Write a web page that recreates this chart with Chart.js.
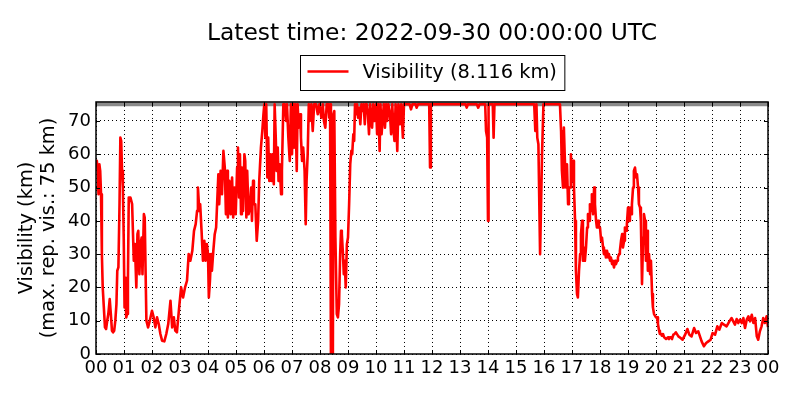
<!DOCTYPE html>
<html>
<head>
<meta charset="utf-8">
<script src="https://cdn.jsdelivr.net/npm/chart.js@4/dist/chart.umd.min.js"></script>
<style>
  body { margin: 0; background: #fff; }
  #wrap { width: 800px; height: 400px; }
</style>
</head>
<body>
<div id="wrap"><canvas id="chart" width="800" height="400"></canvas></div>
<script>
const title = 'Latest time: 2022-09-30 00:00:00 UTC'
const latestValue = 8.116
const maxRepVis = 75
const hourLabels = ['00','01','02','03','04','05','06','07','08','09','10','11','12','13','14','15','16','17','18','19','20','21','22','23','00']

// time of observation (hours since 00 UTC) and visibility (km)
const hours = [
  0.00,0.03,0.06,0.09,0.12,0.15,0.18,0.21,0.24,0.28,0.32,0.36,0.40,0.44,0.49,0.53,0.57,0.61,0.65,0.69,
  0.73,0.76,0.80,0.84,0.87,0.90,0.93,0.96,0.99,1.02,1.05,1.08,1.11,1.14,1.17,1.23,1.29,1.35,1.39,1.44,
  1.48,1.51,1.55,1.59,1.63,1.66,1.71,1.74,1.80,1.86,1.92,2.00,2.06,2.12,2.18,2.24,2.30,2.36,2.44,2.51,
  2.58,2.66,2.72,2.78,2.83,2.89,2.97,3.04,3.11,3.18,3.25,3.31,3.37,3.44,3.50,3.56,3.61,3.64,3.69,3.72,
  3.77,3.82,3.87,3.91,3.96,4.00,4.03,4.07,4.11,4.14,4.19,4.24,4.29,4.33,4.37,4.40,4.45,4.50,4.55,4.60,
  4.64,4.68,4.71,4.76,4.81,4.86,4.90,4.95,4.99,5.04,5.07,5.11,5.14,5.18,5.21,5.25,5.30,5.33,5.37,5.40,
  5.45,5.50,5.54,5.57,5.61,5.64,5.69,5.74,5.79,5.83,5.89,5.94,5.98,6.01,6.05,6.08,6.12,6.15,6.19,6.23,
  6.27,6.31,6.35,6.38,6.42,6.45,6.49,6.52,6.56,6.61,6.64,6.69,6.74,6.79,6.82,6.87,6.92,6.96,7.00,7.04,
  7.07,7.12,7.17,7.20,7.24,7.29,7.32,7.36,7.40,7.45,7.49,7.52,7.56,7.60,7.64,7.69,7.74,7.79,7.86,7.92,
  7.98,8.05,8.10,8.14,8.19,8.24,8.30,8.33,8.36,8.39,8.43,8.46,8.48,8.51,8.55,8.60,8.64,8.68,8.72,8.75,
  8.78,8.82,8.85,8.88,8.92,8.96,9.00,9.04,9.08,9.12,9.15,9.19,9.22,9.25,9.29,9.32,9.36,9.40,9.44,9.48,
  9.52,9.56,9.60,9.63,9.67,9.71,9.75,9.79,9.83,9.86,9.90,9.95,10.00,10.04,10.08,10.13,10.16,10.20,10.24,10.28,
  10.32,10.36,10.40,10.44,10.50,10.54,10.58,10.62,10.66,10.70,10.76,10.80,10.86,10.90,10.96,11.00,11.20,11.25,11.30,11.42,
  11.45,11.50,11.90,11.93,11.96,13.20,13.24,13.28,13.60,13.65,13.70,13.90,13.93,13.97,14.00,14.02,14.17,14.20,14.23,15.65,
  15.69,15.73,15.76,15.80,15.86,15.93,15.98,16.57,16.61,16.64,16.68,16.71,16.75,16.79,16.82,16.86,16.89,16.93,16.96,17.00,
  17.04,17.07,17.11,17.14,17.18,17.21,17.25,17.29,17.32,17.36,17.39,17.43,17.46,17.50,17.54,17.57,17.61,17.64,17.68,17.71,
  17.75,17.79,17.82,17.86,17.89,17.93,17.96,18.00,18.04,18.07,18.11,18.14,18.18,18.21,18.25,18.29,18.32,18.36,18.39,18.43,
  18.46,18.50,18.54,18.57,18.61,18.64,18.68,18.71,18.75,18.79,18.82,18.86,18.89,18.93,18.96,19.00,19.04,19.07,19.11,19.14,
  19.18,19.21,19.25,19.29,19.32,19.36,19.39,19.43,19.46,19.50,19.54,19.57,19.61,19.64,19.68,19.71,19.75,19.79,19.82,19.86,
  19.89,19.93,19.96,20.00,20.04,20.07,20.11,20.14,20.18,20.21,20.25,20.29,20.32,20.36,20.39,20.43,20.46,20.50,20.54,20.57,
  20.62,20.66,20.71,20.80,20.88,20.95,21.04,21.12,21.19,21.27,21.36,21.43,21.51,21.57,21.63,21.71,21.79,21.87,21.95,22.02,
  22.11,22.19,22.26,22.35,22.43,22.52,22.62,22.70,22.76,22.82,22.88,22.94,23.00,23.06,23.12,23.18,23.24,23.30,23.36,23.42,
  23.48,23.54,23.60,23.65,23.71,23.77,23.83,23.89,23.95,24.00
]
const visibility = [
  57,58,55,48,57,55,48,30,20,14,8,7.5,10,12,16.5,12,7,6.5,7,10,
  15,25,26,45,65,64,55,50,35,14,23,11,12,22,47,47,45,28,33,20,
  36,37,24,33,35,24,42,41,10,8,10,13,11,8,11,9,6,4,3.8,6,
  9,16,8,11,7,6.5,14,20,17,20,22,30,28,31,37,39,43,50,43,45,
  37,28,34,28,33,30,17,22,30,25,31,36,38,46,54,45,55,48,61,56,
  42,55,41,52,42,53,41,50,42,56,62,47,60,42,56,43,60,58,41,55,
  42,44,50,40,52,45,45,34,40,52,62,67,72,75,65,75,53,65,52,60,
  52,60,51,75,65,55,62,52,57,48,55,75,75,70,75,65,58,75,60,75,
  62,75,55,75,68,72,65,58,62,55,39,52,60,75,70,75,67,75,75,72,
  75,71,75,70,68,75,75,71,75,0,0.5,0,72,73,35,12,11,15,30,37,
  36,30,24,28,20,33,35,45,57,61,60,66,64,75,72,75,71,74,69,75,
  73,75,69,75,75,72,66,75,70,68,75,70,75,66,75,61,75,66,71,75,
  68,75,70,75,72,66,75,68,64,75,61,75,69,75,65,75,75,73.5,75,75,
  74,75,75,56,75,75,74,75,75,74,75,75,67,65,40,75,75,65,75,75,
  67,75,65,63,30,60,75,75,67,55,50,68,57,50,57,45,50,50,60,52,
  58,50,40,25,18,17,25,30,36,40,28,32,28,32,38,42,40,45,43,48,
  42,50,45,40,38,40,38,38,34,35,32,30,31,29,31,29,30,28,29,27,
  28,26,28,27,28,29,30,31,34,36,32,34,38,37,39,44,40,44,42,45,
  50,55,56,53,54,50,45,44,40,21,35,42,40,28,37,25,30,24,28,18,
  14,12,12,11,11,9,7,6,6,5.5,6,5,5,4.5,4.5,5,4.5,5,5,4.5,
  5.8,6,6.5,5.3,4.8,4.3,5.8,7.5,5.8,5.3,7.8,6.3,6.8,5.3,3.8,2.3,3.3,3.8,4.3,6.3,
  5.8,8.3,7.3,9.3,8.8,8.3,9.8,10.8,9.8,8.8,10.5,9.3,10.3,9.3,10.8,7.8,10.3,11.3,9.8,11.8,
  9.3,10.8,5.3,4.3,6.8,8.3,10.8,9.3,11.3,latestValue
]

const font = '"DejaVu Sans", sans-serif'

// legend with a frame + axes box and inward tick marks, matplotlib style
const frame = {
  id: 'frame',
  afterDraw(chart) {
    const {ctx, chartArea: a, scales} = chart
    ctx.save()
    ctx.strokeStyle = '#000'
    ctx.lineWidth = 1
    ctx.beginPath()
    scales.x.ticks.forEach(t => {
      const px = Math.round(scales.x.getPixelForValue(t.value)) + 0.5
      ctx.moveTo(px, a.bottom); ctx.lineTo(px, a.bottom - 4)
      ctx.moveTo(px, a.top); ctx.lineTo(px, a.top + 4)
    })
    scales.y.ticks.forEach(t => {
      const py = Math.round(scales.y.getPixelForValue(t.value)) + 0.5
      ctx.moveTo(a.left, py); ctx.lineTo(a.left + 4, py)
      ctx.moveTo(a.right, py); ctx.lineTo(a.right - 4, py)
    })
    ctx.stroke()
    ctx.lineWidth = 1.5
    ctx.strokeRect(a.left, a.top, a.right - a.left, a.bottom - a.top)

    const label = `Visibility (${latestValue} km)`
    ctx.font = '19.4px ' + font
    const tw = ctx.measureText(label).width
    const w = 7 + 41 + 14 + tw + 8
    const h = 35
    const x0 = Math.round((a.left + a.right) / 2 - w / 2) + 0.5
    const y0 = 55.5
    ctx.lineWidth = 1
    ctx.strokeRect(x0, y0, w, h)
    ctx.strokeStyle = '#ff0000'
    ctx.lineWidth = 2.6
    ctx.beginPath()
    ctx.moveTo(x0 + 7, y0 + 16)
    ctx.lineTo(x0 + 48, y0 + 16)
    ctx.stroke()
    ctx.fillStyle = '#000'
    ctx.textBaseline = 'middle'
    ctx.fillText(label, x0 + 62, y0 + h / 2)
    ctx.restore()
  }
}

const grid = {color: '#000', lineWidth: 1, drawTicks: false}
const border = {display: false, dash: [1, 3]}

new Chart(document.getElementById('chart'), {
  type: 'line',
  data: {
    datasets: [
      {
        label: 'visibility',
        data: hours.map((h, i) => ({x: h, y: visibility[i]})),
        borderColor: '#ff0000',
        borderWidth: 2.6,
        pointRadius: 0,
        tension: 0,
        borderJoinStyle: 'round'
      },
      {
        label: 'max',
        data: [{x: 0, y: maxRepVis}, {x: 24, y: maxRepVis}],
        borderColor: '#8a8a8a',
        borderWidth: 4,
        pointRadius: 0
      }
    ]
  },
  options: {
    responsive: false,
    animation: false,
    layout: {padding: {left: 0, right: 32, top: 0, bottom: 0}},
    plugins: {
      legend: {display: false},
      tooltip: {enabled: false},
      title: {
        display: true,
        text: title,
        fullSize: false,
        color: '#000',
        font: {family: font, size: 23.4, weight: 'normal', lineHeight: 1.2},
        padding: {top: 20, bottom: 53.9}
      }
    },
    scales: {
      x: {
        type: 'linear',
        min: 0,
        max: 24,
        grid: grid,
        border: border,
        ticks: {
          stepSize: 1,
          color: '#000',
          padding: 4,
          maxRotation: 0,
          autoSkip: false,
          font: {family: font, size: 18},
          callback: v => hourLabels[v]
        },
        afterFit: s => { s.height = 46 }
      },
      y: {
        min: 0,
        max: 75.7,
        grid: grid,
        border: border,
        ticks: {
          stepSize: 10,
          includeBounds: false,
          color: '#000',
          padding: 5,
          font: {family: font, size: 18}
        },
        title: {
          display: true,
          text: ['Visibility (km)', '(max. rep. vis.: 75 km)'],
          color: '#000',
          font: {family: font, size: 19.4, lineHeight: 1.134},
          padding: {top: 16, bottom: 0}
        },
        afterFit: s => { s.width = 96 }
      }
    }
  },
  plugins: [frame]
})
</script>
</body>
</html>
